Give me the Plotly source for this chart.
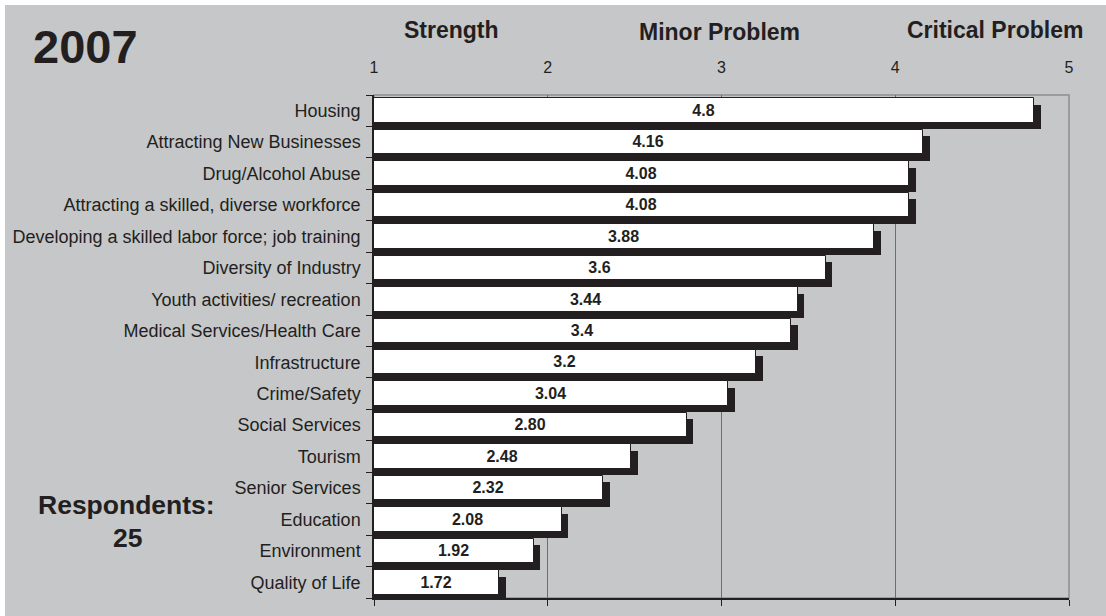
import plotly.graph_objects as go

# ---- data ----
categories = [
    "Housing",
    "Attracting New Businesses",
    "Drug/Alcohol Abuse",
    "Attracting a skilled, diverse workforce",
    "Developing a skilled labor force; job training",
    "Diversity of Industry",
    "Youth activities/ recreation",
    "Medical Services/Health Care",
    "Infrastructure",
    "Crime/Safety",
    "Social Services",
    "Tourism",
    "Senior Services",
    "Education",
    "Environment",
    "Quality of Life",
]
values = [4.8, 4.16, 4.08, 4.08, 3.88, 3.6, 3.44, 3.4, 3.2, 3.04, 2.80, 2.48, 2.32, 2.08, 1.92, 1.72]
value_labels = ["4.8", "4.16", "4.08", "4.08", "3.88", "3.6", "3.44", "3.4", "3.2", "3.04",
                "2.80", "2.48", "2.32", "2.08", "1.92", "1.72"]
tick_values = [1, 2, 3, 4, 5]
tick_labels = ["1", "2", "3", "4", "5"]
scale_headers = ["Strength", "Minor Problem", "Critical Problem"]
title_text = "2007"
respondents_label = "Respondents:"
respondents_count = "25"

# ---- layout geometry (pixels) ----
W, H = 1106, 616
PL, PR, PT, PB = 374, 1069, 95, 598
PW, PH = PR - PL, PB - PT
XMIN, XMAX = 1, 5
n = len(categories)

def px_x(px):
    return (px - PL) / PW

def px_y(py):
    return (PB - py) / PH

BG = "#c6c7c9"
INK = "#231f20"
GRID = "#6e6e70"
FONT = "Liberation Sans, Arial, sans-serif"

bar_w = 0.78
shadow_px = 6.5
dx = shadow_px * (XMAX - XMIN) / PW
dy = shadow_px * n / PH

idx = list(range(n))

fig = go.Figure()

# shadows (on main x axis)
fig.add_trace(go.Bar(
    orientation="h",
    y=[i + dy for i in idx],
    x=[v - XMIN + dx for v in values],
    base=XMIN,
    width=bar_w,
    marker=dict(color=INK, line=dict(width=0)),
    hoverinfo="skip",
    showlegend=False,
    xaxis="x", yaxis="y",
))

# white bars (on overlaying top axis)
fig.add_trace(go.Bar(
    orientation="h",
    y=idx,
    x=[v - XMIN for v in values],
    base=XMIN,
    width=bar_w,
    marker=dict(color="white", line=dict(color=INK, width=1)),
    text=value_labels,
    textposition="inside",
    insidetextanchor="middle",
    textangle=0,
    textfont=dict(family=FONT, size=16, color=INK, weight="bold"),
    hoverinfo="skip",
    showlegend=False,
    xaxis="x2", yaxis="y",
))

shapes = [
    # gray panel (white strip on top/left edge)
    dict(type="rect", xref="paper", yref="paper", layer="below",
         x0=px_x(5), x1=px_x(W + 10), y0=px_y(H + 10), y1=px_y(5),
         fillcolor=BG, line=dict(width=0)),
    # plot border
    dict(type="rect", xref="paper", yref="paper", layer="below",
         x0=0, x1=1, y0=0, y1=1,
         fillcolor="rgba(0,0,0,0)", line=dict(color="#8e8e90", width=1.5)),
]

annotations = [
    dict(text=title_text, x=px_x(85), y=px_y(47), xref="paper", yref="paper",
         showarrow=False, xanchor="center", yanchor="middle",
         font=dict(family=FONT, size=47, color=INK, weight="bold")),
    dict(text=respondents_label, x=px_x(126), y=px_y(505), xref="paper", yref="paper",
         showarrow=False, xanchor="center", yanchor="middle",
         font=dict(family=FONT, size=26.5, color=INK, weight="bold")),
    dict(text=respondents_count, x=px_x(127), y=px_y(538), xref="paper", yref="paper",
         showarrow=False, xanchor="center", yanchor="middle",
         font=dict(family=FONT, size=26.5, color=INK, weight="bold")),
]
for txt, cx, cy in zip(scale_headers, [451, 719, 995], [30, 32, 30]):
    annotations.append(dict(text=txt, x=px_x(cx), y=px_y(cy), xref="paper", yref="paper",
                            showarrow=False, xanchor="center", yanchor="middle",
                            font=dict(family=FONT, size=23, color=INK, weight="bold")))

fig.update_layout(
    width=W, height=H,
    margin=dict(l=PL, r=W - PR, t=PT, b=H - PB, pad=0, autoexpand=False),
    paper_bgcolor="white",
    plot_bgcolor="rgba(0,0,0,0)",
    barmode="overlay",
    bargap=0,
    showlegend=False,
    font=dict(family=FONT, color=INK),
    xaxis=dict(
        range=[XMIN, XMAX], side="bottom", automargin=False,
        tickmode="array", tickvals=tick_values,
        showticklabels=False,
        showgrid=True, gridcolor=GRID, gridwidth=1,
        showline=True, linecolor=INK, linewidth=1.5,
        ticks="outside", ticklen=6, tickcolor=INK, tickwidth=1,
        zeroline=False, fixedrange=True,
    ),
    xaxis2=dict(
        range=[XMIN, XMAX], side="top", overlaying="x", automargin=False,
        tickmode="array", tickvals=tick_values, ticktext=tick_labels,
        showgrid=False, showline=False, zeroline=False,
        ticks="", ticklabelstandoff=18,
        tickfont=dict(family=FONT, size=16, color=INK),
        fixedrange=True,
    ),
    yaxis=dict(
        range=[n - 0.5, -0.5], automargin=False,
        tickmode="array", tickvals=idx, ticktext=categories,
        ticks="", ticklabelstandoff=8,
        tickfont=dict(family=FONT, size=18, color=INK),
        showgrid=False, zeroline=False,
        showline=True, linecolor=INK, linewidth=1.5,
        minor=dict(tickmode="array", tickvals=[i - 0.5 for i in range(n + 1)],
                   ticks="outside", ticklen=6, tickcolor=INK, tickwidth=1, showgrid=False),
        fixedrange=True,
    ),
    shapes=shapes,
    annotations=annotations,
)

fig.write_html(
    "out.html",
    config={"displayModeBar": False},
    post_script="document.body.style.margin='0px';",
)
